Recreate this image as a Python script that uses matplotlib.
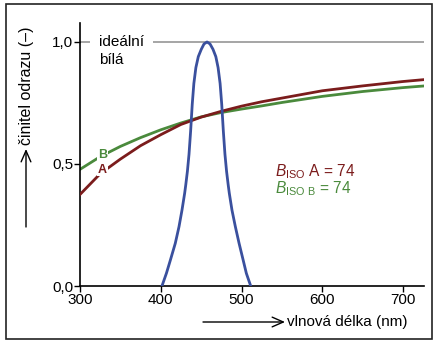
import matplotlib
matplotlib.use('Agg')
import matplotlib.pyplot as plt
from matplotlib.patches import Rectangle

plt.rcParams['font.family'] = ['Liberation Sans', 'DejaVu Sans']
plt.rcParams['mathtext.fontset'] = 'custom'
plt.rcParams['mathtext.rm'] = 'Liberation Sans'
plt.rcParams['mathtext.it'] = 'Liberation Sans:italic'

# paper A / B reflectance curves
wl_paper = [300, 325, 350, 375, 400, 425, 450, 475, 500, 525, 550, 600, 650, 700, 727]
refl_a = [0.375, 0.46, 0.52, 0.575, 0.62, 0.662, 0.692, 0.716, 0.737, 0.755, 0.77,
          0.80, 0.82, 0.838, 0.846]
refl_b = [0.478, 0.53, 0.572, 0.608, 0.64, 0.668, 0.693, 0.711, 0.725, 0.738, 0.752,
          0.777, 0.797, 0.813, 0.82]

# ISO brightness weighting function (blue band)
wl_iso = [401.5, 407, 412, 418, 422.6, 426.3, 429.6, 431, 433, 435, 437, 439, 441,
          443.5, 446.5, 450.2, 453.6, 457.3, 461, 464.7, 468.2, 471, 473.5, 475.5,
          477.5, 479.5, 481.5, 483.5, 484.9, 488.2, 492.4, 497, 502, 506, 511.4]
iso_w = [0.0, 0.052, 0.107, 0.175, 0.243, 0.311, 0.38, 0.415, 0.47, 0.54, 0.635,
         0.745, 0.83, 0.895, 0.94, 0.97, 0.992, 1.0, 0.992, 0.97, 0.94, 0.895, 0.83,
         0.745, 0.635, 0.54, 0.47, 0.415, 0.38, 0.311, 0.243, 0.175, 0.107, 0.052, 0.0]

x_ticks = [300, 400, 500, 600, 700]
y_ticks = [0.0, 0.5, 1.0]
y_ticklabels = ['0,0', '0,5', '1,0']

RED = '#7b1c1c'
GREEN = '#4a8a3c'
BLUE = '#3a509e'

W, H = 438, 345
fig = plt.figure(figsize=(W / 100, H / 100), dpi=100)
ax = fig.add_axes([80 / W, 1 - 286 / H, (424 - 80) / W, (286 - 22.7) / H])

ax.axhline(1.0, color='#9e9e9e', lw=1.3, zorder=1)
ax.plot(wl_paper, refl_b, color=GREEN, lw=2, zorder=2)
ax.plot(wl_paper, refl_a, color=RED, lw=2, zorder=3)
ax.plot(wl_iso, iso_w, color=BLUE, lw=2, zorder=4)

ax.set_xlim(300, 726)
ax.set_ylim(0, 1.079)
ax.set_xticks(x_ticks)
ax.set_yticks(y_ticks)
ax.set_yticklabels(y_ticklabels)
ax.tick_params(labelsize=11, length=4, width=1, pad=1, colors='black')
for s in ['top', 'right']:
    ax.spines[s].set_visible(False)
for s in ['left', 'bottom']:
    ax.spines[s].set_linewidth(1.2)

ax.text(323.5, 1.0, 'ideální', fontsize=11, va='center', ha='left', zorder=5,
        bbox=dict(boxstyle='square,pad=0.6', fc='white', ec='none'))
ax.text(323.5, 0.925, 'bílá', fontsize=11, va='center', ha='left', zorder=5)

ax.text(328, 0.537, 'B', color=GREEN, fontsize=9, fontweight='bold', ha='center',
        va='center', zorder=6, bbox=dict(boxstyle='square,pad=0.05', fc='white', ec='none'))
ax.text(328, 0.476, 'A', color=RED, fontsize=9, fontweight='bold', ha='center',
        va='center', zorder=6, bbox=dict(boxstyle='square,pad=0.05', fc='white', ec='none'))

ax.text(541, 0.468, r'$B_{\mathrm{ISO}}$ A = 74', color=RED, fontsize=11.2,
        ha='left', va='center')
ax.text(541, 0.40, r'$B_{\mathrm{ISO\ B}}$ = 74', color=GREEN, fontsize=11.2,
        ha='left', va='center')

# axis labels with arrows
arrow = dict(arrowstyle='->,head_length=0.8,head_width=0.35', color='black', lw=1,
             shrinkA=0, shrinkB=0)
ax.annotate('', xy=(26 / W, 1 - 149 / H), xytext=(26 / W, 1 - 227 / H),
            xycoords='figure fraction', textcoords='figure fraction', arrowprops=arrow)
fig.text(27 / W, 1 - 86 / H, 'činitel odrazu (–)', rotation=90, fontsize=11.5,
         ha='center', va='center')
ax.annotate('', xy=(285 / W, 1 - 322 / H), xytext=(203 / W, 1 - 322 / H),
            xycoords='figure fraction', textcoords='figure fraction', arrowprops=arrow)
fig.text(287 / W, 1 - 322 / H, 'vlnová délka (nm)', fontsize=11, ha='left', va='center')

fig.add_artist(Rectangle((6 / W, 1 - 339 / H), (432 - 6) / W, (339 - 4) / H,
                         transform=fig.transFigure, fill=False, ec='#222222', lw=1.2))

fig.savefig('out.png', dpi=100)
